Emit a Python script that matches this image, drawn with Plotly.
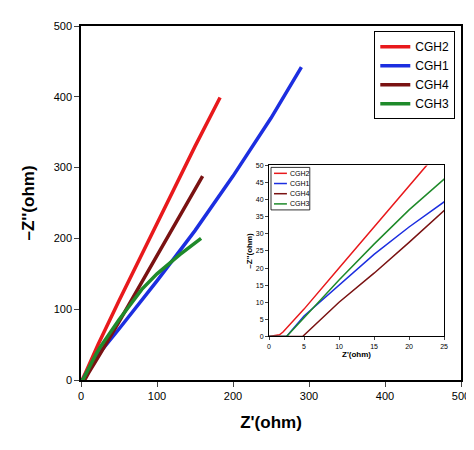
import plotly.graph_objects as go

names = ["CGH2", "CGH1", "CGH4", "CGH3"]
colors = ["#e8191c", "#1c2ee0", "#7a1212", "#1f8a2a"]

# Main plot data
x_cgh2 = [0, 1.5, 2, 5, 10, 15, 22.5, 50, 100, 150, 183]
y_cgh2 = [0, 0.5, 1.3, 8, 20, 32, 50, 112, 222, 330, 399]
x_cgh1 = [0, 2.5, 5, 10, 15, 20, 25, 50, 100, 150, 200, 250, 290]
y_cgh1 = [0, 0, 6, 15, 24, 32, 39, 72, 140, 211, 288, 370, 442]
x_cgh4 = [0, 4.8, 10, 15, 20, 25, 50, 100, 130, 160]
y_cgh4 = [0, 0, 10, 18.5, 27.5, 36.5, 82, 175, 233, 288]
x_cgh3 = [0, 2.5, 5, 10, 15, 20, 25, 50, 80, 100, 130, 158]
y_cgh3 = [0, 0, 5.5, 16.5, 27, 37, 46, 85, 128, 150, 177, 200]

xs = [x_cgh2, x_cgh1, x_cgh4, x_cgh3]
ys = [y_cgh2, y_cgh1, y_cgh4, y_cgh3]

fig = go.Figure()
for n, c, x, y in zip(names, colors, xs, ys):
    fig.add_trace(go.Scatter(x=x, y=y, mode="lines", name=n, line=dict(color=c, width=3.5)))
for n, c, x, y in zip(names, colors, xs, ys):
    fig.add_trace(go.Scatter(x=x, y=y, mode="lines", name=n, showlegend=False,
                             line=dict(color=c, width=1.5), xaxis="x2", yaxis="y2"))

W, H = 474, 450
L, R, T, B = 73, 455, 14, 372
def fx(px): return (px - L) / (R - L)
def fy(py): return (B - py) / (B - T)

# inset legend
fig.add_shape(type="rect", xref="paper", yref="paper", x0=fx(264), x1=fx(303), y0=fy(200), y1=fy(157),
              line=dict(color="black", width=0.8), fillcolor="white")
for i, (n, c) in enumerate(zip(names, colors)):
    yy = fy(163 + i * 10.3)
    fig.add_shape(type="line", xref="paper", yref="paper", x0=fx(267), x1=fx(280), y0=yy, y1=yy,
                  line=dict(color=c, width=1.5))
    fig.add_annotation(text=n, xref="paper", yref="paper", x=fx(281), y=yy, xanchor="left",
                       showarrow=False, font=dict(size=7))

fig.update_layout(
    width=W, height=H, paper_bgcolor="white", plot_bgcolor="white",
    margin=dict(l=L, r=W - R, t=T, b=H - B),
    font=dict(family="Arial, Liberation Sans", color="black", size=11),
    showlegend=True,
    legend=dict(x=0.985, y=0.985, xanchor="right", yanchor="top", bordercolor="black",
                borderwidth=1, bgcolor="white", font=dict(size=12), tracegroupgap=0),
    xaxis=dict(range=[0, 500], tickvals=[0, 100, 200, 300, 400, 500], showgrid=False,
               zeroline=False, showline=True, linecolor="black", linewidth=1.5, mirror=True,
               ticks="outside", title=dict(text="<b>Z'(ohm)</b>", font=dict(size=17))),
    yaxis=dict(range=[0, 500], tickvals=[0, 100, 200, 300, 400, 500], showgrid=False,
               zeroline=False, showline=True, linecolor="black", linewidth=1.5, mirror=True,
               ticks="outside", title=dict(text="<b>\u2013Z''(ohm)</b>", font=dict(size=17))),
    xaxis2=dict(domain=[fx(262), fx(438)], anchor="y2", range=[0, 25],
                tickvals=[0, 5, 10, 15, 20, 25], showgrid=False, zeroline=False,
                showline=True, linecolor="black", mirror=True, ticks="outside", ticklen=3,
                tickfont=dict(size=7), title=dict(text="<b>Z'(ohm)</b>", font=dict(size=8), standoff=2)),
    yaxis2=dict(domain=[fy(328), fy(155)], anchor="x2", range=[0, 50],
                tickvals=list(range(0, 51, 5)), showgrid=False, zeroline=False,
                showline=True, linecolor="black", mirror=True, ticks="outside", ticklen=3,
                tickfont=dict(size=7), title=dict(text="<b>\u2013Z''(ohm)</b>", font=dict(size=8), standoff=2)),
)
fig.write_html("out.html")
